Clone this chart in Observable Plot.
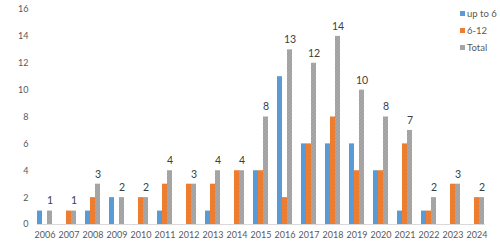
<!DOCTYPE html>
<html>
<head>
<meta charset="utf-8">
<script src="https://cdn.jsdelivr.net/npm/d3@7"></script>
<script src="https://cdn.jsdelivr.net/npm/@observablehq/plot@0.6"></script>
<style>
  body { margin: 0; background: #fff; font-family: Lato, "Open Sans", sans-serif; }
  #wrap { position: relative; width: 500px; height: 245px; }
  #legend { position: absolute; left: 460px; top: 5px; font-size: 9.5px; color: #595959; line-height: 17px; }
  #legend .item { display: flex; align-items: center; }
  #legend .sw { width: 5px; height: 5px; margin-right: 2px; }
</style>
</head>
<body>
<div id="wrap">
  <div id="chart"></div>
  <div id="legend"></div>
</div>
<script>
// Yearly counts by age group
const years = ["2006","2007","2008","2009","2010","2011","2012","2013","2014","2015",
               "2016","2017","2018","2019","2020","2021","2022","2023","2024"];
const upTo6 = [1,0,1,2,0,1,0,1,0,4,11,6,6,6,4,1,1,0,0];
const age6to12 = [0,1,2,0,2,3,3,3,4,4,2,6,8,4,4,6,1,3,2];
const total = [1,1,3,2,2,4,3,4,4,8,13,12,14,10,8,7,2,3,2];
const seriesNames = ["up to 6", "6-12", "Total"];
const seriesColors = ["#5B9BD5", "#ED7D31", "url(#hatch)"];
const yTicks = [0,2,4,6,8,10,12,14,16];

const rows = [];
years.forEach((yr, i) => {
  rows.push({year: yr, series: seriesNames[0], value: upTo6[i]});
  rows.push({year: yr, series: seriesNames[1], value: age6to12[i]});
  rows.push({year: yr, series: seriesNames[2], value: total[i]});
});
const totals = rows.filter(d => d.series === "Total");

const chart = Plot.plot({
  width: 500,
  height: 245,
  marginLeft: 25,
  marginRight: 4,
  marginTop: 9,
  marginBottom: 21,
  style: {fontFamily: "Lato, 'Open Sans', sans-serif", fontSize: "9px", color: "#595959", background: "#fff"},
  fx: {domain: years, paddingInner: 0.355, paddingOuter: 0.1775, label: null, axis: "bottom", tickSize: 0, tickPadding: 7},
  x: {domain: seriesNames, padding: 0, axis: null},
  y: {domain: [0, 16], ticks: yTicks, tickSize: 0, tickPadding: 9, label: null},
  color: {domain: seriesNames, range: seriesColors},
  marks: [
    // baseline along the bottom of the whole plot area (y = 0)
    Plot.frame({anchor: "bottom", facet: "super", stroke: "#d9d9d9", strokeWidth: 1}),
    Plot.barY(rows, {fx: "year", x: "series", y: "value", fill: "series"}),
    Plot.text(totals, {fx: "year", x: "series", y: "value", text: d => String(d.value), dy: -10,
                       fill: "#404040", fontSize: 10.5})
  ]
});

// Fine diagonal hatch used for the Total bars
const svgNS = "http://www.w3.org/2000/svg";
const defs = document.createElementNS(svgNS, "defs");
defs.innerHTML = `<pattern id="hatch" patternUnits="userSpaceOnUse" width="2.5" height="2.5" patternTransform="rotate(45)">
  <rect width="2.5" height="2.5" fill="#adadad"/>
  <rect width="1.2" height="2.5" fill="#9c9c9c"/>
</pattern>`;
chart.insertBefore(defs, chart.firstChild);
document.getElementById("chart").appendChild(chart);

// Legend
const legend = document.getElementById("legend");
const swatchColors = ["#5B9BD5", "#ED7D31", "#A5A5A5"];
seriesNames.forEach((name, i) => {
  const item = document.createElement("div");
  item.className = "item";
  item.innerHTML = `<span class="sw" style="background:${swatchColors[i]}"></span><span>${name}</span>`;
  legend.appendChild(item);
});
</script>
</body>
</html>
